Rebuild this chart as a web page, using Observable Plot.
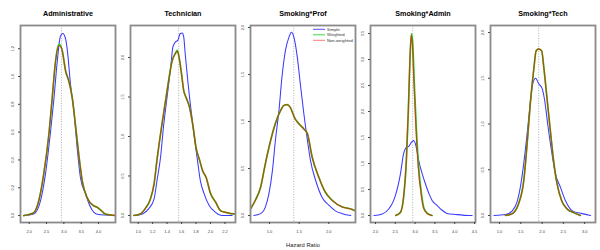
<!DOCTYPE html>
<html><head><meta charset="utf-8">
<script src="https://cdn.jsdelivr.net/npm/d3@7"></script>
<script src="https://cdn.jsdelivr.net/npm/@observablehq/plot@0.6"></script>
<style>
body{margin:0;background:#fff;}
#chart{position:relative;width:600px;height:250px;overflow:hidden;font-family:"Liberation Sans",Arial,sans-serif;}
.panel{position:absolute;top:0;}
.panel svg{overflow:visible;}
</style></head><body><div id="chart"></div>
<script>
// ---- data ----
const titles = ["Administrative", "Technician", "Smoking*Prof", "Smoking*Admin", "Smoking*Tech"];
const seriesNames = ["Simple", "Weighted", "Non-weighted"];
const refValues = [2.93, 1.56, 1.41, 2.94, 1.92];

const xTicks = [
  [2.0, 2.5, 3.0, 3.5, 4.0],
  [1.0, 1.2, 1.4, 1.6, 1.8, 2.0, 2.2],
  [1.0, 1.5, 2.0],
  [2.0, 2.5, 3.0, 3.5, 4.0, 4.5],
  [1.0, 1.5, 2.0, 2.5, 3.0]
];
const yTicks = [
  [0, 0.2, 0.4, 0.6, 0.8, 1.0, 1.2],
  [0, 0.5, 1.0, 1.5, 2.0],
  [0, 0.5, 1.0, 1.5, 2.0],
  [0, 0.5, 1.0, 1.5, 2.0, 2.5, 3.0, 3.5],
  [0, 0.5, 1.0, 1.5, 2.0]
];

const adminSimple = [[1.84,0],[2.13,0.012],[2.33,0.11],[2.47,0.30],[2.61,0.59],[2.71,0.83],[2.81,1.11],[2.90,1.29],[2.97,1.31],[3.05,1.27],[3.10,1.19],[3.19,0.95],[3.29,0.75],[3.39,0.47],[3.48,0.27],[3.62,0.16],[3.77,0.06],[3.96,0.01],[4.49,0]];
const adminWeighted = [[1.84,0],[2.13,0.02],[2.28,0.11],[2.42,0.30],[2.57,0.59],[2.66,0.83],[2.76,1.11],[2.85,1.23],[2.88,1.23],[2.95,1.19],[3.05,1.04],[3.14,0.97],[3.24,0.85],[3.34,0.64],[3.43,0.44],[3.53,0.25],[3.67,0.13],[3.86,0.07],[3.96,0.06],[4.06,0.04],[4.20,0.01],[4.49,0]];
const adminNonWeighted = [[1.84,0],[2.13,0.02],[2.28,0.11],[2.42,0.30],[2.57,0.59],[2.66,0.84],[2.76,1.11],[2.85,1.22],[2.88,1.22],[2.95,1.19],[3.05,1.04],[3.14,0.97],[3.24,0.85],[3.34,0.64],[3.43,0.44],[3.53,0.25],[3.67,0.13],[3.86,0.07],[3.96,0.06],[4.06,0.04],[4.20,0.01],[4.49,0]];

const techSimple = [[0.94,0],[1.06,0.02],[1.15,0.09],[1.22,0.21],[1.26,0.44],[1.31,0.74],[1.35,1.12],[1.40,1.50],[1.45,1.88],[1.48,2.13],[1.51,2.19],[1.55,2.22],[1.58,2.30],[1.61,2.31],[1.63,2.26],[1.65,2.05],[1.69,1.67],[1.72,1.42],[1.77,1.04],[1.82,0.70],[1.86,0.44],[1.91,0.28],[1.98,0.13],[2.07,0.04],[2.16,0],[2.30,0]];
const techWeighted = [[0.94,0],[1.03,0.02],[1.10,0.09],[1.17,0.21],[1.22,0.40],[1.26,0.70],[1.33,1.16],[1.40,1.58],[1.47,1.96],[1.52,2.06],[1.54,2.09],[1.56,2.03],[1.60,1.79],[1.63,1.58],[1.66,1.50],[1.71,1.37],[1.76,1.12],[1.80,0.86],[1.85,0.70],[1.89,0.57],[1.94,0.48],[2.00,0.28],[2.07,0.17],[2.14,0.06],[2.21,0.04],[2.32,0.02],[2.35,0.02]];
const techNonWeighted = [[0.94,0],[1.03,0.02],[1.10,0.09],[1.17,0.21],[1.22,0.40],[1.26,0.70],[1.33,1.16],[1.40,1.58],[1.47,1.95],[1.52,2.06],[1.54,2.08],[1.56,2.03],[1.60,1.79],[1.63,1.58],[1.66,1.50],[1.71,1.37],[1.76,1.12],[1.80,0.86],[1.85,0.70],[1.89,0.57],[1.94,0.48],[2.00,0.28],[2.07,0.17],[2.14,0.06],[2.21,0.04],[2.32,0.02],[2.35,0.02]];

const profSimple = [[0.735,0],[0.85,0.02],[0.93,0.09],[0.99,0.23],[1.05,0.48],[1.10,0.80],[1.16,1.12],[1.21,1.47],[1.27,1.76],[1.33,1.90],[1.37,1.95],[1.41,1.90],[1.47,1.68],[1.52,1.40],[1.58,1.08],[1.64,0.80],[1.69,0.59],[1.78,0.37],[1.89,0.19],[2.0,0.11],[2.11,0.05],[2.23,0.02],[2.37,0]];
const profWeighted = [[0.68,0.07],[0.76,0.16],[0.85,0.30],[0.93,0.55],[1.02,0.80],[1.10,0.98],[1.19,1.12],[1.24,1.17],[1.30,1.18],[1.35,1.15],[1.43,1.03],[1.49,0.98],[1.58,0.92],[1.64,0.87],[1.72,0.62],[1.83,0.41],[1.94,0.25],[2.06,0.16],[2.23,0.09],[2.37,0.07],[2.45,0.05]];
const profNonWeighted = [[0.68,0.07],[0.76,0.16],[0.85,0.30],[0.93,0.55],[1.02,0.80],[1.10,0.98],[1.19,1.12],[1.24,1.17],[1.30,1.18],[1.35,1.15],[1.43,1.03],[1.49,0.98],[1.58,0.92],[1.64,0.87],[1.72,0.62],[1.83,0.41],[1.94,0.25],[2.06,0.16],[2.23,0.09],[2.37,0.07],[2.45,0.05]];

const smAdminSimple = [[1.96,0],[2.17,0.03],[2.34,0.13],[2.46,0.29],[2.55,0.51],[2.63,0.80],[2.71,1.19],[2.78,1.31],[2.84,1.33],[2.91,1.41],[2.97,1.44],[3.03,1.31],[3.09,1.06],[3.18,0.80],[3.26,0.61],[3.35,0.42],[3.43,0.29],[3.56,0.19],[3.68,0.10],[3.81,0.04],[4.02,0.02],[4.36,0],[4.44,0]];
const smAdminWeighted = [[2.51,0],[2.63,0.06],[2.71,0.35],[2.78,1.06],[2.83,2.02],[2.87,2.98],[2.91,3.50],[2.94,3.31],[2.98,2.54],[3.03,1.69],[3.09,0.92],[3.16,0.42],[3.22,0.15],[3.31,0.04],[3.43,0]];
const smAdminNonWeighted = [[2.51,0],[2.63,0.06],[2.71,0.36],[2.78,1.08],[2.83,2.05],[2.87,3.02],[2.90,3.47],[2.93,3.30],[2.97,2.56],[3.02,1.70],[3.08,0.93],[3.15,0.42],[3.21,0.15],[3.30,0.04],[3.42,0]];

const smTechSimple = [[0.87,0],[1.14,0.01],[1.30,0.05],[1.42,0.16],[1.49,0.31],[1.57,0.57],[1.65,0.90],[1.73,1.26],[1.78,1.44],[1.85,1.50],[1.92,1.44],[2.00,1.39],[2.06,1.26],[2.14,0.97],[2.22,0.71],[2.31,0.46],[2.43,0.31],[2.55,0.16],[2.71,0.05],[2.94,0.02],[3.14,0]];
const smTechWeighted = [[1.14,0],[1.30,0.02],[1.45,0.13],[1.57,0.38],[1.65,0.79],[1.73,1.26],[1.81,1.62],[1.86,1.80],[1.92,1.82],[1.99,1.80],[2.04,1.62],[2.12,1.26],[2.20,0.90],[2.27,0.60],[2.35,0.35],[2.46,0.16],[2.59,0.07],[2.75,0.03],[2.90,0]];
const smTechNonWeighted = [[1.14,0],[1.30,0.02],[1.45,0.13],[1.57,0.38],[1.65,0.79],[1.73,1.26],[1.81,1.62],[1.86,1.80],[1.92,1.82],[1.99,1.80],[2.04,1.62],[2.12,1.26],[2.20,0.90],[2.27,0.60],[2.35,0.35],[2.46,0.16],[2.59,0.07],[2.75,0.03],[2.90,0]];

const panelSeries = [
  [adminSimple, adminWeighted, adminNonWeighted],
  [techSimple, techWeighted, techNonWeighted],
  [profSimple, profWeighted, profNonWeighted],
  [smAdminSimple, smAdminWeighted, smAdminNonWeighted],
  [smTechSimple, smTechWeighted, smTechNonWeighted]
];

// ---- layout ----
const xDomains = [[1.749, 4.490], [0.894, 2.346], [0.680, 2.450], [1.874, 4.525], [0.789, 3.254]];
const yDomains = [[-0.050, 1.367], [-0.089, 2.405], [-0.074, 2.021], [-0.135, 3.654], [-0.077, 2.077]];
const boxLeft = [20, 130, 250, 370, 490];
const boxWidth = [95, 105, 105, 105, 105];
const colors = ["#3a3aff", "#1ed81e", "#ff0000"];
const mL = 20, mR = 5, mT = 25, mB = 28;
const fmt = d3.format(".1f");
const font = "'Liberation Sans', Arial, sans-serif";

const chart = document.getElementById("chart");

titles.forEach((title, i) => {
  const [s, w, n] = panelSeries[i];
  const marks = [
    Plot.ruleX([refValues[i]], {stroke: "#9a9a9a", strokeWidth: 0.8, strokeDasharray: "1,1.6"}),
    Plot.line(s, {x: d => d[0], y: d => d[1], stroke: colors[0], strokeWidth: 1.05, curve: "monotone-x", clip: true}),
    Plot.line(w, {x: d => d[0], y: d => d[1], stroke: colors[1], strokeWidth: 1.7, curve: "monotone-x", clip: true}),
    Plot.line(n, {x: d => d[0], y: d => d[1], stroke: colors[2], strokeOpacity: 0.62, strokeWidth: 1.3, curve: "monotone-x", clip: true}),
    Plot.frame({stroke: "#8a8a8a", strokeWidth: 1.8}),
    Plot.axisX({ticks: xTicks[i], tickSize: 2, tickPadding: 6, tickFormat: fmt, fontSize: 4, color: "#444", label: null}),
    Plot.axisY({ticks: yTicks[i], tickSize: 2, tickPadding: 4.5, tickRotate: -90, tickFormat: fmt, fontSize: 4, color: "#444", label: null}),
    Plot.text([title], {frameAnchor: "top", lineAnchor: "middle", dy: -12, text: d => d, fontWeight: "bold", fontSize: 7.2, fill: "#000"})
  ];
  if (i === 2) {
    marks.push(Plot.text(["Hazard Ratio"], {frameAnchor: "bottom", lineAnchor: "middle", dy: 23, text: d => d, fontSize: 5.8, fill: "#222"}));
  }
  const p = Plot.plot({
    width: mL + boxWidth[i] + mR,
    height: 250,
    marginLeft: mL, marginRight: mR, marginTop: mT, marginBottom: mB,
    x: {domain: xDomains[i], label: null},
    y: {domain: yDomains[i], label: null},
    style: {background: "transparent", fontFamily: font, overflow: "visible"},
    marks
  });
  const div = document.createElement("div");
  div.className = "panel";
  div.style.left = (boxLeft[i] - mL) + "px";
  div.appendChild(p);
  chart.appendChild(div);
});

// legend (inside Smoking*Prof panel, top right)
const leg = d3.select(chart).append("svg")
  .attr("width", 60).attr("height", 20)
  .style("position", "absolute").style("left", "310px").style("top", "25px");
seriesNames.forEach((name, k) => {
  const y = 4.3 + k * 5.5;
  leg.append("line").attr("x1", 3).attr("x2", 15).attr("y1", y).attr("y2", y)
    .attr("stroke", colors[k]).attr("stroke-opacity", k === 2 ? 0.6 : 1).attr("stroke-width", 0.9);
  leg.append("text").attr("x", 17).attr("y", y).attr("dy", "0.35em")
    .attr("font-size", 4.2).attr("font-family", font).attr("fill", "#333").text(name);
});
</script>
</body></html>
